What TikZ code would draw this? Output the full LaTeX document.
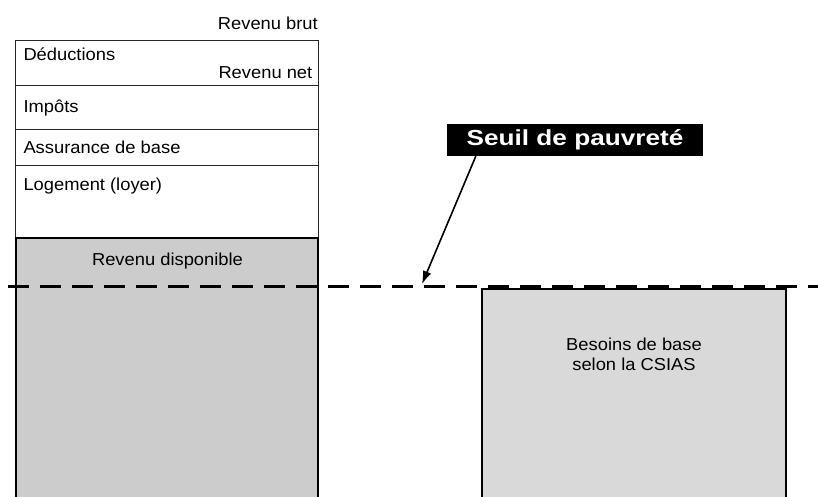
\documentclass[tikz,border=0pt]{standalone}
\usepackage{fontspec}
\setmainfont{Liberation Sans}[FakeStretch=1.06]
\newfontfamily\lblfont{Liberation Sans}[FakeStretch=1.2]
\usetikzlibrary{arrows.meta}
\definecolor{boxgrayA}{HTML}{CCCCCC}
\definecolor{boxgrayB}{HTML}{D9D9D9}
\tikzset{
  txt/.style={inner sep=0pt, font=\fontsize{17.3}{20}\selectfont},
  rowline/.style={draw=black!85, line width=0.8pt},
  graybox/.style={draw=black, line width=1.6pt},
  poverty/.style={draw=black, line width=2.6pt, dash pattern=on 21pt off 11pt},
  tag/.style={fill=black, text=white, inner sep=0pt, minimum width=256pt, minimum height=32pt,
              font=\lblfont\bfseries\fontsize{21.8}{24}\selectfont},
  pointer/.style={draw=black, line width=1.6pt, -{Latex[length=13pt,width=9pt]}}
}
\begin{document}
\begin{tikzpicture}[x=1pt,y=-1pt]
\useasboundingbox (0,0) rectangle (818,497);
\clip (0,0) rectangle (818,497);
\fill[white] (0,0) rectangle (818,497);
% upper white rows
\draw[rowline] (15.7,40) rectangle (318,238);
\draw[rowline] (15.7,85) -- (318,85);
\draw[rowline] (15.7,129) -- (318,129);
\draw[rowline] (15.7,165) -- (318,165);
% gray boxes
\draw[graybox, fill=boxgrayA] (15.7,238) rectangle (318,510);
\draw[graybox, fill=boxgrayB] (482,289) rectangle (786,510);
% texts
\node[txt, anchor=base east] (brut) at (318,30) {Revenu brut};
\node[txt, anchor=base west] (ded) at (23.3,60.7) {Déductions};
\node[txt, anchor=base east] (net) at (312.5,78.3) {Revenu net};
\node[txt, anchor=base west] (imp) at (23.3,112.5) {Impôts};
\node[txt, anchor=base west] (ass) at (23.3,153.3) {Assurance de base};
\node[txt, anchor=base west] (log) at (23.3,190.3) {Logement (loyer)};
\node[txt, anchor=base] (dispo) at (167.5,265.7) {Revenu disponible};
\node[txt, anchor=base] (bes1) at (634,350.7) {Besoins de base};
\node[txt, anchor=base] (bes2) at (634,370.7) {selon la CSIAS};
% poverty line
\coordinate (pl0) at (8,286.5);
\coordinate (pl1) at (818,286.5);
\draw[poverty] (pl0) -- (pl1);
% label and pointer
\node[tag] (seuil) at (575,140) {Seuil de pauvreté};
\coordinate (tip) at (422,284);
\draw[pointer] ([xshift=29pt]seuil.south west) -- (tip);
\end{tikzpicture}
\end{document}
